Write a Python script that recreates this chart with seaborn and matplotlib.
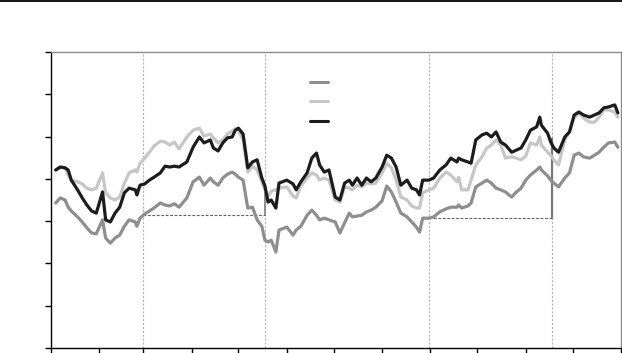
import numpy as np
import pandas as pd
import matplotlib
matplotlib.use("Agg")
import matplotlib.pyplot as plt
from matplotlib.lines import Line2D
import seaborn as sns

# ---- data (day of year) ----
days = [3, 6, 9, 11, 13, 17, 20, 23, 26, 29, 33, 35, 38, 41, 44, 47, 50, 54, 55, 57,
        60, 63, 66, 70, 73, 76, 79, 82, 87, 91, 95, 98, 102, 104, 107, 110, 113, 116, 118, 120,
        123, 126, 129, 132, 135, 137, 139, 141, 144, 146, 151, 155, 157, 160, 164, 167, 170, 172, 175, 178,
        182, 185, 188, 191, 193, 196, 199, 202, 205, 208, 212, 215, 218, 221, 224, 228, 231, 234, 236, 238,
        242, 245, 249, 253, 256, 260, 261, 263, 267, 269, 272, 276, 279, 282, 285, 288, 291, 295, 298, 301,
        304, 307, 311, 313, 314, 318, 320, 322, 325, 329, 332, 335, 338, 341, 345, 348, 351, 354, 357, 361, 363]

series_dark = [4.21, 4.28, 4.26, 4.21, 3.97, 3.74, 3.55, 3.38, 3.24, 3.19, 3.69, 3.03, 2.98, 3.19, 3.33, 3.67, 3.78, 3.74, 3.62, 3.85,
               3.88, 3.97, 4.04, 4.14, 4.30, 4.28, 4.30, 4.28, 4.40, 4.75, 4.99, 4.85, 4.92, 4.73, 4.66, 4.85, 4.97, 4.99, 5.15, 5.20,
               5.06, 4.26, 4.40, 4.45, 4.02, 3.83, 3.45, 3.50, 3.31, 3.90, 3.97, 3.88, 3.74, 3.93, 4.14, 4.49, 4.61, 4.33, 4.16, 4.21,
               3.57, 3.50, 3.90, 3.97, 3.85, 4.02, 3.85, 4.02, 3.93, 4.02, 4.28, 4.56, 4.49, 4.28, 3.85, 3.97, 3.78, 3.74, 3.62, 3.97,
               3.97, 4.02, 4.21, 4.33, 4.49, 4.40, 4.49, 4.45, 4.40, 4.37, 4.92, 5.04, 5.08, 4.99, 5.11, 4.87, 4.80, 4.63, 4.68, 4.73,
               4.92, 5.15, 5.23, 5.46, 5.27, 5.08, 4.87, 4.73, 4.63, 4.99, 5.11, 5.51, 5.58, 5.51, 5.46, 5.51, 5.56, 5.68, 5.70, 5.75, 5.56]

series_light = [4.21, 4.28, 4.26, 4.09, 3.97, 3.93, 3.88, 3.78, 3.74, 3.78, 4.14, 3.67, 3.55, 3.50, 3.57, 3.90, 4.14, 4.21, 4.16, 4.37,
                4.49, 4.63, 4.78, 4.89, 4.87, 4.80, 4.87, 4.71, 4.99, 5.15, 5.20, 5.01, 5.06, 4.97, 4.85, 4.92, 5.06, 5.13, 5.18, 5.15,
                4.92, 4.16, 4.30, 4.21, 3.93, 3.74, 3.59, 3.71, 3.74, 3.78, 3.81, 3.59, 3.55, 3.83, 4.02, 4.14, 4.09, 3.97, 4.02, 3.97,
                3.50, 3.45, 3.81, 3.78, 3.74, 3.85, 3.81, 3.90, 3.88, 3.90, 4.14, 4.37, 4.26, 3.97, 3.57, 3.50, 3.36, 3.31, 3.31, 3.67,
                3.74, 3.78, 4.02, 4.16, 4.09, 3.93, 4.04, 3.74, 3.74, 3.97, 4.33, 4.52, 4.73, 4.80, 4.92, 4.80, 4.49, 4.52, 4.49, 4.45,
                4.54, 4.85, 4.80, 4.99, 4.80, 4.63, 4.56, 4.45, 4.33, 4.92, 5.11, 5.44, 5.56, 5.44, 5.34, 5.34, 5.46, 5.63, 5.63, 5.58, 5.46]

series_mid = [3.43, 3.55, 3.50, 3.33, 3.24, 3.10, 2.98, 2.84, 2.72, 2.70, 3.03, 2.60, 2.48, 2.60, 2.67, 2.88, 3.03, 2.98, 2.88, 3.07,
              3.17, 3.24, 3.31, 3.43, 3.38, 3.36, 3.41, 3.33, 3.55, 3.93, 4.04, 3.85, 4.02, 3.93, 3.85, 4.02, 4.11, 4.16, 4.11, 4.04,
              3.97, 3.31, 3.33, 3.03, 2.88, 2.55, 2.51, 2.55, 2.27, 2.79, 2.86, 2.67, 2.79, 2.88, 3.14, 3.26, 3.14, 3.03, 3.07, 3.03,
              2.98, 2.72, 2.96, 3.19, 3.10, 3.12, 3.14, 3.22, 3.26, 3.33, 3.48, 3.83, 3.69, 3.45, 3.19, 3.10, 2.98, 2.86, 2.74, 3.07,
              3.07, 3.10, 3.22, 3.29, 3.33, 3.33, 3.38, 3.31, 3.36, 3.43, 3.81, 3.90, 3.97, 3.90, 3.78, 3.74, 3.69, 3.57, 3.69, 3.78,
              3.97, 4.09, 4.21, 4.28, 4.21, 4.07, 3.97, 3.90, 3.81, 4.02, 4.14, 4.56, 4.61, 4.52, 4.49, 4.56, 4.63, 4.75, 4.85, 4.87, 4.75]

series_names = ["mid", "light", "dark"]
series_colors = ["#8e8e8e", "#c6c6c6", "#1c1c1c"]

month_starts = [0, 31, 59, 90, 120, 151, 181, 212, 243, 273, 304, 334, 365]
y_ticks = [0, 1, 2, 3, 4, 5, 6, 7]

event_days = [59, 137, 242, 321]
ref_levels = [3.14, 3.07]        # dotted reference levels between event pairs
jump_tops = [3.85, 4.97]         # top of the solid jump marker at the 2nd/4th events

# ---- build long table ----
df = pd.concat([
    pd.DataFrame({"day": days, "value": series_mid, "series": "mid"}),
    pd.DataFrame({"day": days, "value": series_light, "series": "light"}),
    pd.DataFrame({"day": days, "value": series_dark, "series": "dark"}),
], ignore_index=True)

sns.set_style("white")
W, H = 622, 353
fig = plt.figure(figsize=(W / 100, H / 100), dpi=100)
ax = fig.add_axes([51 / W, (H - 348) / H, (621 - 51) / W, (348 - 52) / H])

# event markers
for d in event_days:
    ax.axvline(d, color="#b4b4b4", lw=0.8, ls=(0, (2, 1.5)), zorder=1)
ax.hlines(ref_levels[0], event_days[0], event_days[1], color="#606060", lw=0.8, ls=(0, (2.5, 1.5)), zorder=1)
ax.hlines(ref_levels[1], event_days[2], event_days[3], color="#606060", lw=0.8, ls=(0, (2.5, 1.5)), zorder=1)
ax.vlines(event_days[1], ref_levels[0], jump_tops[0], color="#8e8e8e", lw=1.4, zorder=2)
ax.vlines(event_days[3], ref_levels[1], jump_tops[1], color="#7a7a7a", lw=1.6, zorder=2)

sns.lineplot(data=df, x="day", y="value", hue="series", hue_order=series_names,
             palette=dict(zip(series_names, series_colors)), linewidth=2.3,
             legend=False, ax=ax, zorder=3)

ax.set_xlim(0, 365)
ax.set_ylim(0, 7)
ax.set_xticks(month_starts)
ax.set_yticks(y_ticks)
ax.set_xticklabels([])
ax.set_yticklabels([])
ax.set_xlabel("")
ax.set_ylabel("")
ax.tick_params(axis="both", which="both", direction="out", length=4, width=1.0,
               color="black", bottom=True, left=True, top=False, right=False)
for side in ["left", "bottom"]:
    ax.spines[side].set_color("black")
    ax.spines[side].set_linewidth(1.0)
for side in ["top", "right"]:
    ax.spines[side].set_color("#8a8a8a")
    ax.spines[side].set_linewidth(1.0)

# legend with only line samples
handles = [Line2D([], [], color=c, lw=2.2) for c in series_colors]
ax.legend(handles, ["", "", ""], loc="upper left", bbox_to_anchor=(0.454, 0.913),
          frameon=False, fontsize=8, handlelength=1.62, handletextpad=0.0,
          borderpad=0.0, borderaxespad=0.0, labelspacing=0.86)

fig.add_artist(Line2D([0, 1], [1 - 0.8 / H, 1 - 0.8 / H], transform=fig.transFigure,
                      color="black", lw=1.3))

fig.savefig("out.png", dpi=100)
